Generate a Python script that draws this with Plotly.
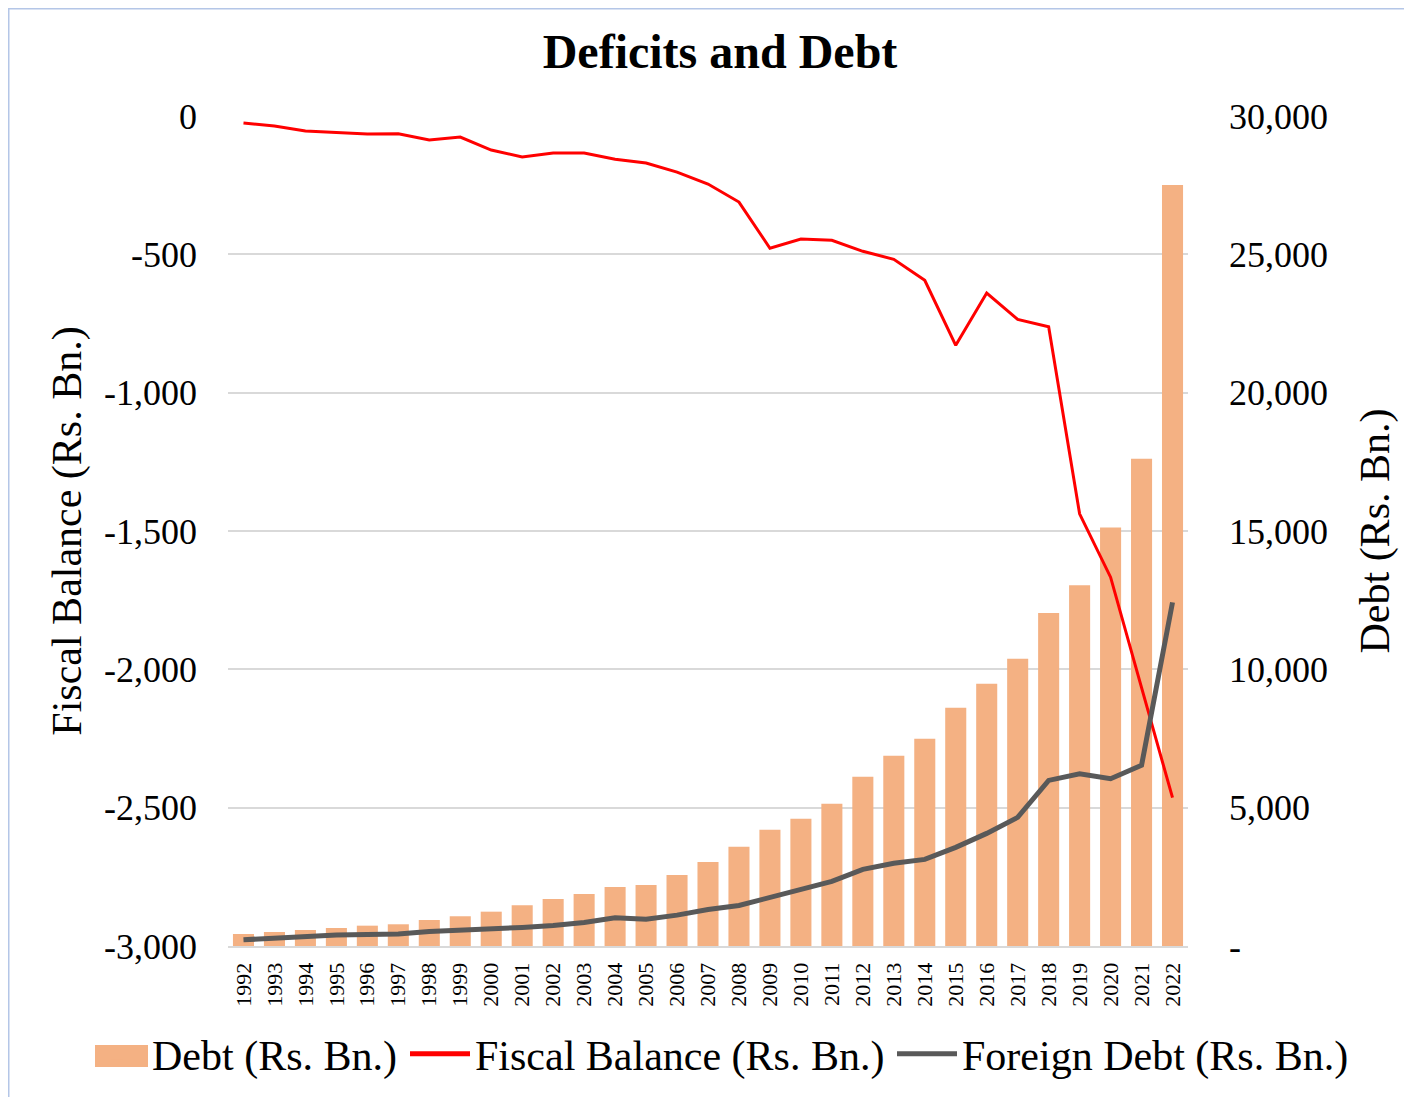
import plotly.graph_objects as go

years = [str(y) for y in range(1992, 2023)]

debt = [434, 507, 579, 651, 735, 785, 941, 1075, 1241, 1473, 1700, 1880, 2135, 2207, 2570,
        3040, 3583, 4198, 4596, 5139, 6116, 6876, 7491, 8613, 9482, 10386, 12040, 13040,
        15127, 17614, 27504]

fiscal_balance = [-25, -36, -54, -60, -65, -64, -87, -76, -123, -148, -134, -134, -156, -170,
                  -203, -246, -311, -478, -445, -449, -489, -518, -594, -829, -640, -735, -762,
                  -1438, -1667, -2066, -2464]

foreign_debt = [225, 290, 340, 400, 415, 430, 525, 560, 600, 670, 740, 850, 1020, 970, 1115,
                1320, 1465, 1755, 2045, 2335, 2770, 2990, 3130, 3565, 4070, 4650, 5985, 6225,
                6045, 6530, 12420]

left_ticks = [0, -500, -1000, -1500, -2000, -2500, -3000]
left_ticktext = ["0", "-500", "-1,000", "-1,500", "-2,000", "-2,500", "-3,000"]
right_ticks = [0, 5000, 10000, 15000, 20000, 25000, 30000]
right_ticktext = ["-", "5,000", "10,000", "15,000", "20,000", "25,000", "30,000"]

FONT = "Liberation Serif"
BAR_COLOR = "#F4B183"
W, H = 1404, 1089
L, R, T, B = 220, 224, 108, 151
PW, PH = W - L - R, H - T - B

fig = go.Figure()
fig.add_trace(go.Bar(x=years, y=debt, name="Debt (Rs. Bn.)", marker_color=BAR_COLOR,
                     marker_line_width=0, yaxis="y", legend="legend", showlegend=True))
fig.add_trace(go.Scatter(x=years, y=fiscal_balance, name="Fiscal Balance (Rs. Bn.)",
                         mode="lines", line=dict(color="#FF0000", width=3), yaxis="y2",
                         legend="legend2", showlegend=True))
fig.add_trace(go.Scatter(x=years, y=foreign_debt, name="Foreign Debt (Rs. Bn.)",
                         mode="lines", line=dict(color="#595959", width=5), yaxis="y3",
                         legend="legend3", showlegend=True))


def leg(xpx):
    return dict(orientation="h", xref="container", yref="container", x=xpx / W,
                xanchor="left", y=1 - 1046 / H, yanchor="middle",
                font=dict(size=42, family=FONT, color="black"), itemsizing="constant",
                itemwidth=60, bgcolor="rgba(0,0,0,0)")


def px_x(p):
    return (p - L) / PW


def px_y(p):
    return (PH + T - p) / PH


fig.update_layout(
    width=W, height=H, showlegend=True,
    margin=dict(l=L, r=R, t=T, b=B, autoexpand=False),
    paper_bgcolor="white", plot_bgcolor="white",
    font=dict(family=FONT, color="black"),
    bargap=0.32,
    title=dict(text="<b>Deficits and Debt</b>", font=dict(size=48, family=FONT, color="black"),
               x=712 / W, xref="container", xanchor="center", y=1 - 43 / H, yref="container",
               yanchor="middle"),
    xaxis=dict(type="category", tickangle=-90, tickfont=dict(size=22), showline=True,
               linecolor="#d9d9d9", linewidth=2, ticks="", showgrid=False,
               ticklabelstandoff=6),
    yaxis=dict(side="right", range=[0, 30000], tickvals=right_ticks, ticktext=right_ticktext,
               tickfont=dict(size=36), showgrid=True, gridcolor="#d9d9d9", gridwidth=1.5,
               zeroline=False, ticklabelstandoff=40,
               title=dict(text="Debt (Rs. Bn.)", font=dict(size=42), standoff=32)),
    yaxis2=dict(overlaying="y", side="left", range=[-3000, 0], tickvals=left_ticks,
                ticktext=left_ticktext, tickfont=dict(size=36), showgrid=False, zeroline=False,
                ticklabelstandoff=30,
                title=dict(text="Fiscal Balance (Rs. Bn.)", font=dict(size=42), standoff=9)),
    yaxis3=dict(overlaying="y", matches="y", side="right", visible=False, showgrid=False),
    legend=leg(74),
    legend2=leg(397),
    legend3=leg(884),
    shapes=[
        dict(type="rect", xref="paper", yref="paper", x0=px_x(0.75), x1=1.5,
             y0=-0.5, y1=px_y(0.75), line=dict(color="#b4c6e7", width=1.5),
             fillcolor="rgba(0,0,0,0)", layer="below"),
        # enlarged legend swatch for the Debt bars (Excel-style)
        dict(type="rect", xref="paper", yref="paper", x0=px_x(87), x1=px_x(140),
             y0=px_y(1059), y1=px_y(1037), line=dict(width=0), fillcolor=BAR_COLOR,
             layer="above"),
    ],
)

fig.write_html("out.html")
